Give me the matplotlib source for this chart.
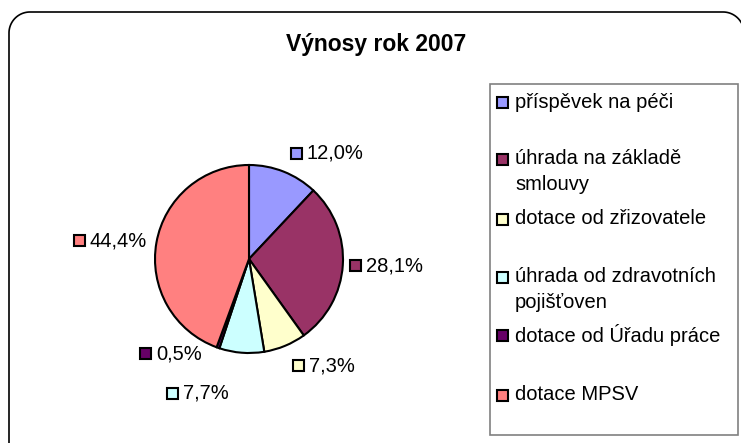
import numpy as np
import matplotlib
matplotlib.use("Agg")
import matplotlib.pyplot as plt
from matplotlib.patches import Rectangle
from matplotlib.lines import Line2D
from matplotlib.transforms import IdentityTransform

plt.rcParams['font.family'] = ['Liberation Sans', 'DejaVu Sans']

title = "Výnosy rok 2007"
categories = ["příspěvek na péči", "úhrada na základě\nsmlouvy", "dotace od zřizovatele",
              "úhrada od zdravotních\npojišťoven", "dotace od Úřadu práce", "dotace MPSV"]
shares = [12.0, 28.1, 7.3, 7.7, 0.5, 44.4]
colors = ["#9999FF", "#993366", "#FFFFCC", "#CCFFFF", "#660066", "#FF8080"]

# label layout (radial distance, pixel nudge x, y)
label_dist = [1.21, 1.08, 1.23, 1.43, 1.09, 1.10]
label_nudge = [(0, 0), (0, 0), (0, 0), (-10, 0), (-13, -2), (0, 0)]
legend_rows = [102, 159, 219, 277, 335, 395]

W, H = 741, 443
fig = plt.figure(figsize=(W / 100, H / 100), dpi=100)
fig.patch.set_facecolor("white")
px = IdentityTransform()

# outer rounded frame, right and bottom run off the picture
L, T, R, B, rad = 9, 12, 744, H + 1, 21
a = np.linspace(0, np.pi / 2, 40)
xs = np.concatenate([[L], L + rad - rad * np.cos(a), R - rad + rad * np.sin(a)])
ys = np.concatenate([[B], T + rad - rad * np.sin(a), T + rad - rad * np.cos(a)])
keep = xs <= W + 0.5
fig.add_artist(Line2D(xs[keep], H - ys[keep], transform=px, color="black", linewidth=1.2))

fig.text(376 / W, 1 - 44 / H, title, ha="center", va="center", fontsize=16.5, fontweight="bold")

cx, cy, r = 249, 259, 94
ax = fig.add_axes([(cx - r) / W, (H - cy - r) / H, 2 * r / W, 2 * r / H])
wedges, _ = ax.pie(shares, colors=colors, startangle=90, counterclock=False,
                   wedgeprops=dict(edgecolor="black", linewidth=1.5))
ax.set_xlim(-1, 1)
ax.set_ylim(-1, 1)
ax.axis("off")

renderer = fig.canvas.get_renderer()
sq = 11
gap = 5
fs = 14.5


def square(x, ycen, color):
    fig.add_artist(Rectangle((x, H - ycen - sq / 2), sq, sq, transform=px,
                             facecolor=color, edgecolor="black", linewidth=1.5))


for w, v, c, d, (nx, ny) in zip(wedges, shares, colors, label_dist, label_nudge):
    mid = np.deg2rad((w.theta1 + w.theta2) / 2)
    x, y = ax.transData.transform((d * np.cos(mid), d * np.sin(mid)))
    x += nx
    y -= ny
    txt = f"{v:.1f}%".replace(".", ",")
    ycen = H - y
    if np.cos(mid) >= 0:
        square(x, ycen, c)
        fig.text((x + sq + gap) / W, y / H, txt, ha="left", va="center", fontsize=fs)
    else:
        t = fig.text(x / W, y / H, txt, ha="right", va="center", fontsize=fs)
        tw = t.get_window_extent(renderer).width
        square(x - tw - gap - sq, ycen, c)

# legend box
fig.add_artist(Rectangle((490, H - 435), 248, 351, transform=px, fill=False,
                         edgecolor="#808080", linewidth=1.2))
for lab, c, yr in zip(categories, colors, legend_rows):
    square(497, yr, c)
    for i, line in enumerate(lab.split("\n")):
        fig.text(515 / W, 1 - (yr + 25 * i) / H, line, ha="left", va="center", fontsize=fs)

fig.savefig("out.png", dpi=100)
